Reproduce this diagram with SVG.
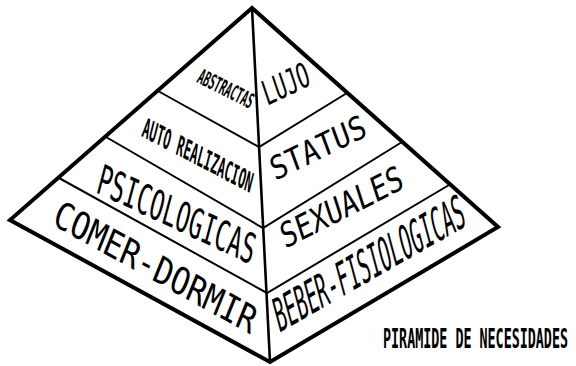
<svg xmlns="http://www.w3.org/2000/svg" width="576" height="366" viewBox="0 0 576 366">
  <style>
    .edge { fill: none; stroke: #000; stroke-width: 4; stroke-linejoin: miter; }
    .ridge { fill: none; stroke: #000; stroke-width: 2.6; stroke-linecap: round; }
    .band { fill: none; stroke: #000; stroke-width: 2; stroke-linecap: round; }
    .lbl { font-family: "DejaVu Sans Mono", "Liberation Mono", monospace; fill: #000; }
    .b { font-weight: bold; }
  </style>
  <rect width="576" height="366" fill="#fff"/>

  <!-- pyramid outline, ridge and level dividers -->
  <g id="connectors">
    <polygon class="edge" points="252,8 10,220 270,362 498,227"/>
    <line class="ridge" x1="252" y1="8" x2="270" y2="362"/>
    <polyline class="band" points="158,91 259,147 347,93"/>
    <polyline class="band" points="106,137 263,228 402,142"/>
    <polyline class="band" points="59,178 267,293 449,185"/>
  </g>

  <!-- left face levels -->
  <g id="abstractas">
    <text class="lbl b" font-size="21" textLength="60" lengthAdjust="spacingAndGlyphs" transform="matrix(.8942 .4478 -.4226 .9063 196 82)">ABSTRACTAS</text>
  </g>
  <g id="auto-realizacion">
    <text class="lbl b" font-size="27" textLength="123" lengthAdjust="spacingAndGlyphs" transform="matrix(.8862 .4633 -.2419 .9703 141 136)">AUTO REALIZACION</text>
  </g>
  <g id="psicologicas">
    <text class="lbl" font-size="41" textLength="172" lengthAdjust="spacingAndGlyphs" transform="matrix(.9063 .4226 -.2588 .9659 95 192)">PSICOLOGICAS</text>
  </g>
  <g id="comer-dormir">
    <text class="lbl" font-size="37" textLength="228" lengthAdjust="spacingAndGlyphs" transform="matrix(.8746 .4848 -.3746 .9272 51 224)">COMER-DORMIR</text>
  </g>

  <!-- right face levels -->
  <g id="lujo">
    <text class="lbl" font-size="34" textLength="50" lengthAdjust="spacingAndGlyphs" transform="matrix(.9018 -.4321 .319 .9478 267 106)">LUJO</text>
  </g>
  <g id="status">
    <text class="lbl" font-size="32" textLength="104" lengthAdjust="spacingAndGlyphs" transform="matrix(.8988 -.4384 .342 .9397 275 181)">STATUS</text>
  </g>
  <g id="sexuales">
    <text class="lbl" font-size="34" textLength="135" lengthAdjust="spacingAndGlyphs" transform="matrix(.891 -.454 .309 .951 285 249)">SEXUALES</text>
  </g>
  <g id="beber-fisiologicas">
    <text class="lbl" font-size="46" textLength="217" lengthAdjust="spacingAndGlyphs" transform="matrix(.8678 -.497 .2588 .9659 279 333)">BEBER-FISIOLOGICAS</text>
  </g>

  <!-- caption -->
  <g id="caption">
    <text class="lbl b" x="383" y="348" font-size="27" textLength="185" lengthAdjust="spacingAndGlyphs">PIRAMIDE DE NECESIDADES</text>
  </g>
</svg>
